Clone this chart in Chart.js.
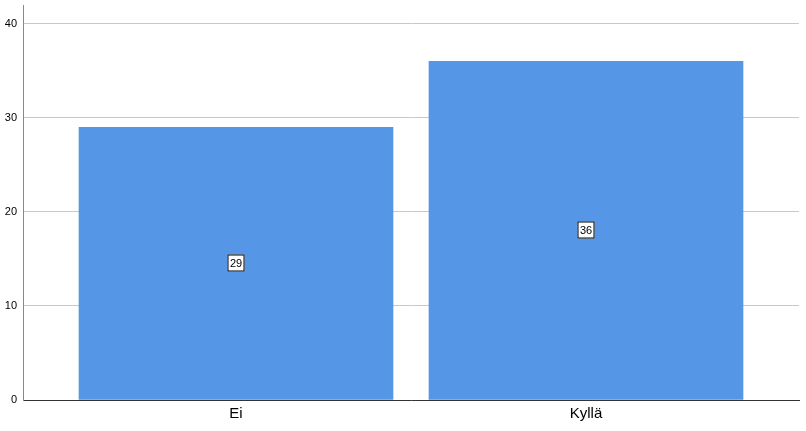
<!DOCTYPE html>
<html>
<head>
<meta charset="utf-8">
<script src="https://cdn.jsdelivr.net/npm/chart.js@4/dist/chart.umd.min.js"></script>
<style>
  html, body { margin: 0; padding: 0; background: #fff; }
  #wrap { width: 806px; height: 431px; }
</style>
</head>
<body>
<div id="wrap"><canvas id="chart"></canvas></div>
<script>
const categories = ['Ei', 'Kyllä'];
const counts = [29, 36];
const yTicks = [0, 10, 20, 30, 40];

// white boxed count label in the middle of each bar
const boxLabels = {
    id: 'boxLabels',
    afterDatasetsDraw(chart) {
        const ctx = chart.ctx;
        const meta = chart.getDatasetMeta(0);
        ctx.save();
        ctx.font = '11px "Liberation Sans", Arial, sans-serif';
        ctx.textAlign = 'center';
        ctx.textBaseline = 'middle';
        meta.data.forEach((bar, i) => {
            const text = String(counts[i]);
            const cx = Math.round(bar.x);
            const cy = Math.round((bar.y + bar.base) / 2);
            const w = Math.ceil(ctx.measureText(text).width) + 4;
            const h = 17;
            ctx.fillStyle = '#fff';
            ctx.fillRect(cx - w / 2, cy - h / 2, w, h);
            ctx.strokeStyle = '#000';
            ctx.lineWidth = 1;
            ctx.strokeRect(cx - w / 2 + 0.5, cy - h / 2 + 0.5, w - 1, h - 1);
            ctx.fillStyle = '#000';
            ctx.fillText(text, cx, cy + 1);
        });
        ctx.restore();
    }
};

const ctx = document.getElementById('chart').getContext('2d');
new Chart(ctx, {
    type: 'bar',
    data: {
        datasets: [{
            data: counts.map((v, i) => ({ x: i, y: v })),
            backgroundColor: '#5596e6',
            borderWidth: 0,
            barThickness: 314
        }]
    },
    options: {
        responsive: true,
        maintainAspectRatio: false,
        animation: false,
        layout: { padding: { top: 5, right: 7, left: 0, bottom: 0 } },
        plugins: { legend: { display: false }, tooltip: { enabled: false } },
        scales: {
            x: {
                type: 'linear',
                offset: false,
                min: -0.6086,
                max: 1.6086,
                afterBuildTicks: s => { s.ticks = categories.map((c, i) => ({ value: i })); },
                afterFit: s => { s.height = 31; s.paddingLeft = 0; s.paddingRight = 0; },
                ticks: {
                    callback: v => categories[v],
                    color: '#000',
                    font: { family: '"Liberation Sans", Arial, sans-serif', size: 15 },
                    padding: 5,
                    maxRotation: 0
                },
                grid: { display: false, drawTicks: false, offset: false },
                border: { display: true, color: '#333', width: 1 }
            },
            y: {
                min: 0,
                max: 42,
                afterBuildTicks: s => { s.ticks = yTicks.map(v => ({ value: v })); },
                afterFit: s => { s.width = 23; s.paddingTop = 0; s.paddingBottom = 0; },
                ticks: {
                    color: '#000',
                    font: { family: '"Liberation Sans", Arial, sans-serif', size: 11 },
                    padding: 6
                },
                grid: { color: '#c8c8c8', drawTicks: false, lineWidth: 1 },
                border: { display: true, color: '#888', width: 1 }
            }
        }
    },
    plugins: [boxLabels]
});
</script>
</body>
</html>
